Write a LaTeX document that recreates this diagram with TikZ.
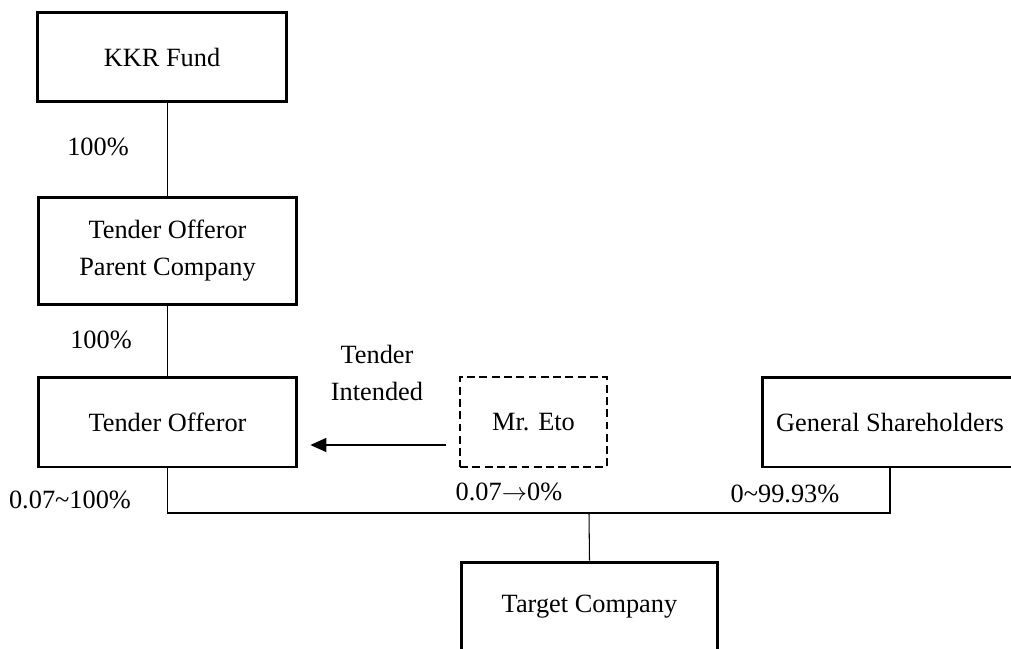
\documentclass[tikz,border=0pt]{standalone}
\usepackage{fontspec}
\setmainfont{Liberation Serif}
\usetikzlibrary{arrows.meta}

\begin{document}
\begin{tikzpicture}[x=0.02cm, y=-0.02cm,
        font=\fontsize{15}{21}\selectfont,
        box/.style={draw, line width=1.7pt, minimum width=5.18cm, minimum height=1.8cm, align=center, inner sep=0pt},
        link/.style={line width=0.6pt},
        pct/.style={inner sep=0pt}]
    \clip (0,0) rectangle (1011,649);
    \useasboundingbox (0,0) rectangle (1011,649);

    % holding chain
    \node[box, minimum width=5cm] (kkr) at (162,57) {KKR Fund};
    \node[box, minimum height=2.16cm] (parent) at (167.5,251) {Tender Offeror\\Parent Company};
    \node[box] (offeror) at (167.5,422) {Tender Offeror};
    \node[box, line width=1.3pt, dash pattern=on 4.5pt off 2.5pt, minimum width=2.94cm] (eto) at (533.5,422) {Mr. Eto};
    \node[box, minimum width=5.12cm] (gs) at (890,422) {General Shareholders};
    \node[box, minimum width=5.14cm] (target) at (589.5,607) {Target Company};

    \draw[link] (parent.north) -- (parent.north |- kkr.south);
    \draw[link] (offeror.north) -- (parent.south);
    \coordinate (bus) at (589,513);
    \draw[link] (offeror.south) |- (bus) -| (gs.south);
    \draw[link] (bus) -- (target.north);
    \draw[link, -{Triangle[length=9pt, width=8pt]}] ([xshift=-0.26cm, yshift=-0.46cm]eto.west) -- ([xshift=0.24cm, yshift=-0.46cm]offeror.east);

    % percentages
    \node[pct] (p1) at (98,147) {100\%};
    \node[pct] (p2) at (101,340) {100\%};
    \node[pct, align=center] (tend) at (377,373) {Tender\\Intended};
    \node[pct] (p3) at (70,500) {0.07\textasciitilde100\%};
    \node[pct] (p4) at (509,492) {0.07$\rightarrow$0\%};
    \node[pct] (p5) at (785,494) {0\textasciitilde99.93\%};
\end{tikzpicture}
\end{document}
